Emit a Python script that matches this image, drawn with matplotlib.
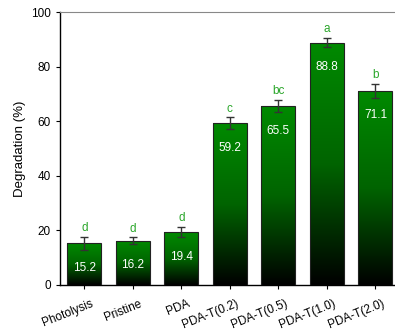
import numpy as np
import matplotlib.pyplot as plt
import matplotlib.transforms as mtransforms
from matplotlib.colors import LinearSegmentedColormap

plt.rcParams["font.family"] = ["Liberation Sans", "DejaVu Sans"]

samples = ["Photolysis", "Pristine", "PDA", "PDA-T(0.2)", "PDA-T(0.5)", "PDA-T(1.0)", "PDA-T(2.0)"]
degradation = [15.2, 16.2, 19.4, 59.2, 65.5, 88.8, 71.1]
errors = [2.5, 1.2, 1.8, 2.2, 2.2, 1.8, 2.5]
groups = ["d", "d", "d", "c", "bc", "a", "b"]

fig = plt.figure(figsize=(3.95, 3.34), dpi=100)
ax = fig.add_axes([0.152, 0.147, 0.86, 0.817])

x = np.arange(len(samples))
bars = ax.bar(x, degradation, width=0.7, color="none", edgecolor="#222222", linewidth=0.8, zorder=3)

# green-to-black fill, clipped to each bar
cmap = LinearSegmentedColormap.from_list("gb", ["#000000", "#006400", "#008a00"])
grad = np.linspace(0, 1, 256).reshape(-1, 1)
for b in bars:
    x0, y0 = b.get_x(), b.get_y()
    im = ax.imshow(grad, cmap=cmap, origin="lower", aspect="auto",
                   extent=[x0, x0 + b.get_width(), y0, y0 + b.get_height()], zorder=2)
    im.set_clip_path(b)

ax.errorbar(x, degradation, yerr=errors, fmt="none", ecolor="#333333",
            elinewidth=1.0, capsize=3, capthick=1.0, zorder=4)

for xi, v, e, g in zip(x, degradation, errors, groups):
    ax.text(xi, v - 9, f"{v:.1f}", color="white", ha="center", va="center", fontsize=8.5, zorder=5)
    ax.text(xi, v + e + 1.0, g, color="#2aa62a", ha="center", va="bottom", fontsize=8.5, zorder=5)

ax.set_xlim(-0.5, 6.5)
ax.set_ylim(0, 100)
ax.set_yticks([0, 20, 40, 60, 80, 100])
ax.set_xticks(x)
ax.set_xticklabels(samples, rotation=22, ha="right", rotation_mode="anchor")
ax.tick_params(axis="both", labelsize=8.5, direction="out", length=3, width=0.8)
ax.set_ylabel("Degradation (%)", fontsize=9.5)

# nudge the slanted labels a little right and down
shift = mtransforms.ScaledTranslation(6 / 100, -4 / 100, fig.dpi_scale_trans)
for lbl in ax.get_xticklabels():
    lbl.set_transform(lbl.get_transform() + shift)

ax.spines["right"].set_visible(False)
ax.spines["top"].set_color("#888888")
ax.spines["left"].set_linewidth(1.0)
ax.spines["bottom"].set_linewidth(1.0)

fig.savefig("out.png", dpi=100)
